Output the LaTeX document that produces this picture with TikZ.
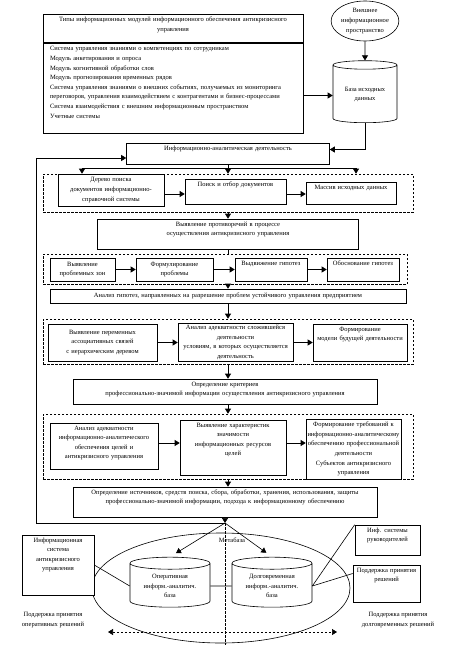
\documentclass[tikz,border=0pt]{standalone}
\usepackage{fontspec}
\setmainfont{Liberation Serif}
\usetikzlibrary{arrows.meta,positioning,shapes.geometric}
\tikzset{
  blok/.style={draw,fill=white,inner sep=2pt,align=center},
  razm/.style 2 args={text width=#1-4,minimum width=#1,minimum height=#2},
  verh/.style 2 args={text width=#1-4,minimum width=#1,text height=5pt,text depth=#2-9},
  gr/.style={draw,dash pattern=on 2.5pt off 1.5pt,inner sep=0pt},
  punktir/.style={dash pattern=on 2.5pt off 1.5pt},
  strel/.style={-{Triangle[length=5pt,width=6pt]}},
  strel2/.style={{Triangle[length=5pt,width=6pt]}-{Triangle[length=5pt,width=6pt]}},
  baza/.style={cylinder,shape border rotate=90,draw,aspect=0.2,align=center,inner sep=1pt},
}
\begin{document}
\begin{tikzpicture}[x=1pt,y=-1pt,line width=0.6pt,font=\fontsize{6.5}{9.6}\selectfont]
  \useasboundingbox (0,0) rectangle (457,650);
  \coordinate (os) at (228,0);
  % verhnij blok
  \node[blok,verh={260}{28},line width=1pt] (tip) at (173,29)
    {Типы информационных модулей информационного обеспечения антикризисного\\управления};
  \node[blok,below=0pt of tip,line width=1pt,text width=246,minimum width=260,
    text height=5pt,text depth=80pt,align=left] (spis)
    {Система управления знаниями о компетенциях по сотрудникам\\
     Модуль анкетирования и опроса\\
     Модуль когнитивной обработки слов\\
     Модуль прогнозирования временных рядов\\
     Система управления знаниями о внешних событиях, получаемых из мониторинга\\
     переговоров, управления взаимодействием с контрагентами и бизнес-процессами\\
     Система взаимодействия с внешним информационным пространством\\
     Учетные системы};
  \node[ellipse,draw,inner sep=0pt,minimum width=64,minimum height=40,align=center] (vnesh) at (365,21)
    {Внешнее\\информационное\\пространство};
  \node[baza,minimum width=64,minimum height=62] (ishod) at (365,94.5) {База исходных\\данных};
  \draw[strel] (vnesh) -- (ishod.north);
  \draw[strel] ([yshift=-7pt]spis.east) -- ([yshift=-7pt]spis.east -| ishod.west);
  \node[blok,verh={203}{21}] (iad) at (228,153.5) {Информационно-аналитическая деятельность};
  \draw[strel] (ishod.south) |- ([yshift=4pt]iad.east);
  % gruppa 1
  \node[gr,minimum width=370,minimum height=38] (gr1) at (228,193) {};
  \coordinate (rl) at (82,168);
  \coordinate (rr) at (356,168);
  \draw (rl) -- (rr);
  \draw[strel] (rl) -- (rl |- gr1.north);
  \draw[strel] (iad.south) -- (iad.south |- gr1.north);
  \draw[strel] (rr) -- (rr |- gr1.north);
  \node[blok,razm={106}{32}] (g1a) at (111,190) {Дерево поиска\\документов информационно-\\справочной системы};
  \node[blok,verh={101}{25}] (g1b) at (235.5,191.5) {Поиск и отбор документов};
  \node[blok,verh={90}{22}] (g1c) at (351,193) {Массив исходных данных};
  \draw[strel] ([yshift=-4pt]g1a.east) -- ([yshift=-4pt]g1a.east -| g1b.west);
  \draw[strel] ([yshift=-2.5pt]g1b.east) -- ([yshift=-2.5pt]g1b.east -| g1c.west);
  \node[blok,verh={261}{30}] (prot) at (228,234)
    {Выявление противоречий в процессе\\осуществления антикризисного управления};
  \draw[strel] (os |- gr1.south) -- (os |- prot.north);
  % gruppa 2
  \node[gr,minimum width=364,minimum height=30] (gr2) at (225,269) {};
  \draw (os |- prot.south) -- (os |- gr2.north);
  \node[blok,razm={65}{23}] (g2a) at (82.5,269.5) {Выявление\\проблемных зон};
  \node[blok,razm={77}{23}] (g2b) at (174.5,269.5) {Формулирование\\проблемы};
  \node[blok,verh={72}{23}] (g2c) at (271,269.5) {Выдвижение гипотез};
  \node[blok,verh={72}{23}] (g2d) at (363,269.5) {Обоснование гипотез};
  \draw[strel] (g2a) -- (g2b);
  \draw[strel] (g2b) -- (g2c);
  \draw[strel] (g2c) -- (g2d);
  \node[blok,razm={356}{14}] (anal) at (228,296)
    {Анализ гипотез, направленных на разрешение проблем устойчивого управления предприятием};
  \draw[strel] (os |- gr2.south) -- (os |- anal.north);
  % gruppa 3
  \node[gr,minimum width=370,minimum height=45] (gr3) at (228,341.5) {};
  \draw[strel] (os |- anal.south) -- (os |- gr3.north);
  \node[blok,razm={109}{37}] (g3a) at (102.5,342.5)
    {Выявление переменных\\ассоциативных связей\\с иерархическим деревом};
  \node[blok,razm={115}{37}] (g3b) at (235.5,342.5)
    {Анализ адекватности сложившейся\\деятельности\\условиям, в которых осуществляется\\деятельность};
  \node[blok,verh={94}{37}] (g3c) at (360,342.5) {Формирование\\модели будущей деятельности};
  \draw[strel] (g3a) -- (g3b);
  \draw[strel] (g3b) -- (g3c);
  \node[blok,verh={304}{25}] (krit) at (225,391.5)
    {Определение критериев\\профессионально-значимой информации осуществления антикризисного управления};
  \draw[strel] (os |- gr3.south) -- (os |- krit.north);
  % gruppa 4
  \node[gr,minimum width=370,minimum height=65] (gr4) at (228,446.5) {};
  \draw[strel] (os |- krit.south) -- (os |- gr4.north);
  \node[blok,verh={108}{46}] (g4a) at (104,446)
    {Анализ адекватности\\информационно-аналитического\\обеспечения целей и\\антикризисного управления};
  \node[blok,verh={106}{55}] (g4b) at (233,447.5)
    {Выявление характеристик\\значимости\\информационных ресурсов\\целей};
  \node[blok,razm={91}{60},text width=95,inner xsep=0pt] (g4c) at (353.5,449)
    {Формирование требований к\\информационно-аналитическому\\обеспечению профессиональной\\деятельности\\Субъектов антикризисного\\управления};
  \draw[strel] ([yshift=3pt]g4a.east) -- ([yshift=3pt]g4a.east -| g4b.west);
  \draw[strel] ([yshift=4.5pt]g4b.east) -- ([yshift=4.5pt]g4b.east -| g4c.west);
  \node[blok,verh={304}{30}] (istoch) at (225,502)
    {Определение источников, средств поиска, сбора, обработки, хранения, использования, защиты\\профессионально-значимой информации, подхода к информационному обеспечению};
  \draw[strel] (os |- gr4.south) -- (os |- istoch.north);
  % metabaza
  \coordinate (uz) at (225,523);
  \coordinate (obr) at (36,158);
  \draw[strel] (istoch.south) -- (uz);
  \draw[strel] (uz) -| (obr) -- (obr -| iad.west);
  \node[ellipse,draw,minimum width=258,minimum height=110] (kontur) at (221,588) {};
  \node (meta) at (232,540) {Метабаза};
  \node[baza,aspect=0.22,minimum width=80,minimum height=50] (ob) at (170,586) {Оперативная\\информ.-аналитич.\\база};
  \node[baza,aspect=0.22,minimum width=80,minimum height=50] (db) at (272,586) {Долговременная\\информ.-аналитич.\\база};
  \draw (ob) -- (db);
  \draw[strel,shorten >=7pt] (uz) -- (ob.north);
  \draw[strel,shorten >=7pt] (uz) -- (db.north);
  \coordinate (niz) at (225,645);
  \draw[punktir] (uz) -- (niz);
  \coordinate (lg) at (108,632);
  \coordinate (pg) at (337,632);
  \draw[punktir,strel2] (lg) -- (pg);
  \node[blok,verh={72}{60}] (isak) at (58,565) {Информационная\\система\\антикризисного\\управления};
  \node[blok,verh={65}{30}] (ruk) at (387.5,540) {Инф. системы\\руководителей};
  \node[blok,verh={67}{37}] (ppr) at (386.5,583.5) {Поддержка принятия\\решений};
  \draw (isak.east) -- (ob.west);
  \draw (db.east) -- (ruk.north west);
  \draw (db.east) -- ([yshift=10pt]ppr.west);
  \node[align=center] (lop) at (53,620) {Поддержка принятия\\оперативных решений};
  \node[align=center] (ldv) at (398,620) {Поддержка принятия\\долговременных решений};
\end{tikzpicture}
\end{document}
